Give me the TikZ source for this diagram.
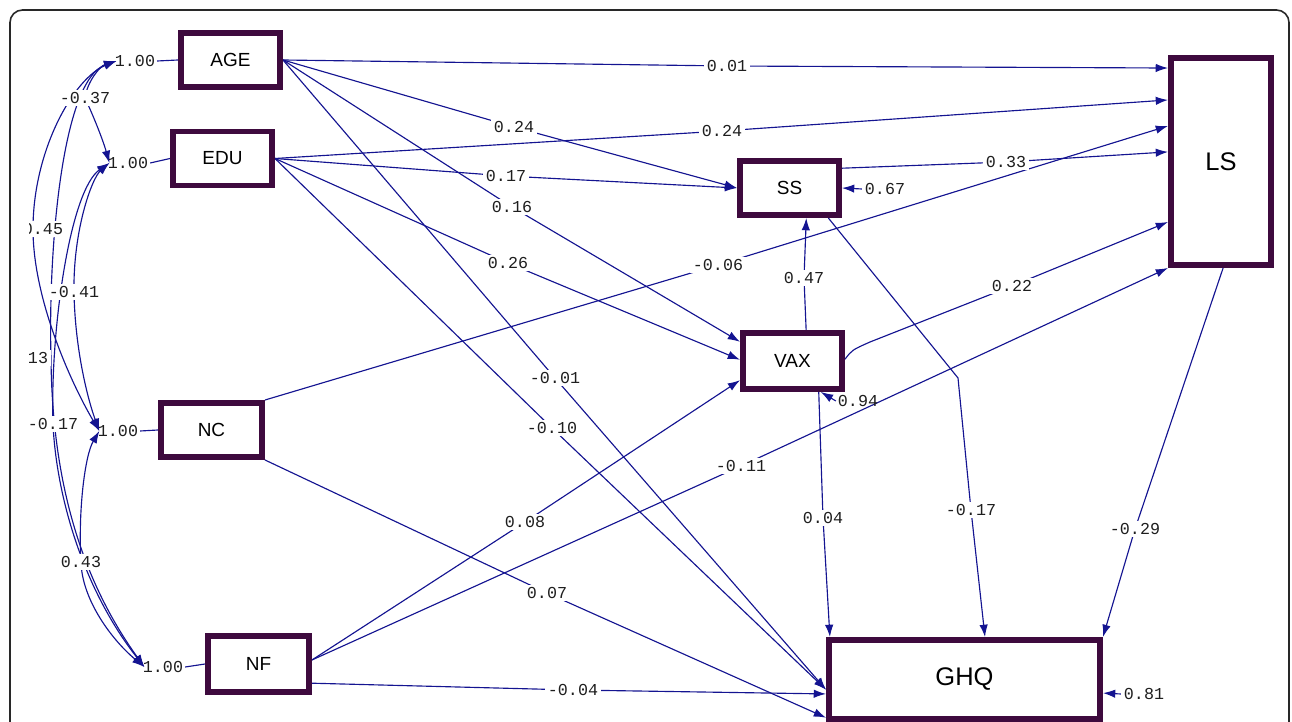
\documentclass[tikz,border=0pt]{standalone}
\usepackage{fontspec}
\setmainfont{Liberation Sans}
\newfontfamily\numfont{Liberation Mono}
\usetikzlibrary{arrows.meta,calc}
\pgfdeclarelayer{bg}
\pgfsetlayers{bg,main}
\definecolor{boxc}{RGB}{62,10,62}
\definecolor{linec}{RGB}{20,20,145}
\definecolor{framec}{RGB}{40,40,40}
\definecolor{numc}{RGB}{30,30,30}
\tikzset{
  box/.style={draw=boxc, line width=3.4pt, fill=white, inner sep=0pt,
              font=\fontsize{10.8}{12}\selectfont},
  bigbox/.style={box, font=\fontsize{14.5}{16}\selectfont},
  lbl/.style={font=\numfont\fontsize{9.5}{11}\selectfont, text=numc, fill=white, inner sep=1.5pt},
  lblnf/.style={font=\numfont\fontsize{9.5}{11}\selectfont, text=numc, inner sep=1pt},
  tipa/.tip={Latex[length=7pt,width=4.8pt]},
  pth/.style={draw=linec, line width=0.65pt, -tipa},
  cov/.style={draw=linec, line width=0.65pt, tipa-tipa},
  lnk/.style={draw=linec, line width=0.65pt},
}
\begin{document}
\begin{tikzpicture}[x=0.02cm, y=-0.02cm]
\useasboundingbox (0,0) rectangle (1292,722);
\draw[framec, line width=0.9pt, rounded corners=0.25cm] (10,10) rectangle (1289,760);

% boxes
\node[box, minimum width=1.98cm, minimum height=1.08cm] (AGE) at (230.5,60) {AGE};
\node[box, minimum width=1.98cm, minimum height=1.08cm] (EDU) at (222.5,158.5) {EDU};
\node[box, minimum width=2.02cm, minimum height=1.08cm] (NC) at (211.5,430) {NC};
\node[box, minimum width=2.02cm, minimum height=1.12cm] (NF) at (258.5,664) {NF};
\node[box, minimum width=1.98cm, minimum height=1.08cm] (SS) at (789.5,188) {SS};
\node[box, minimum width=1.98cm, minimum height=1.12cm] (VAX) at (792.5,361) {VAX};
\node[bigbox, minimum width=2.00cm, minimum height=4.14cm] (LS) at (1221,161.5) {LS};
\node[bigbox, minimum width=5.42cm, minimum height=1.58cm] (GHQ) at (964.5,679.5) {GHQ};

% path labels
\node[lbl] (t01) at (727,66) {0.01};
\node[lbl] (t02) at (514,127) {0.24};
\node[lbl] (t03) at (722,131) {0.24};
\node[lbl] (t04) at (506,176) {0.17};
\node[lbl] (t05) at (512,207) {0.16};
\node[lbl] (t06) at (508,263) {0.26};
\node[lbl] (t07) at (718,265) {-0.06};
\node[lbl] (t08) at (1006,162) {0.33};
\node[lbl] (t09) at (804,278) {0.47};
\node[lbl] (t10) at (1012,286) {0.22};
\node[lbl] (t11) at (555,378) {-0.01};
\node[lbl] (t12) at (552,428) {-0.10};
\node[lbl] (t13) at (741,466) {-0.11};
\node[lbl] (t14) at (525,522) {0.08};
\node[lbl] (t15) at (823,518) {0.04};
\node[lbl] (t16) at (971,510) {-0.17};
\node[lbl] (t17) at (1135,529) {-0.29};
\node[lbl] (t18) at (547,593) {0.07};
\node[lbl] (t19) at (573,690) {-0.04};
% error labels
\node[lbl] (e1) at (885,189) {0.67};
\node[lblnf] (e2) at (858,401) {0.94};
\node[lbl] (e3) at (1144,694) {0.81};
% variance labels
\node[lblnf] (v1) at (135,61) {1.00};
\node[lblnf] (v2) at (128,163) {1.00};
\node[lblnf] (v3) at (118,431) {1.00};
\node[lblnf] (v4) at (163,667) {1.00};
% covariance labels
\begin{scope}
\clip (29,0) rectangle (1292,722);
\node[lbl] (c1) at (85,98) {-0.37};
\node[lbl] (c2) at (43,229) {0.45};
\node[lbl] (c3) at (74,292) {-0.41};
\node[lbl] (c4) at (28,358) {0.13};
\node[lbl] (c5) at (53,424) {-0.17};
\node[lbl] (c6) at (81,562) {0.43};
\end{scope}

\begin{pgfonlayer}{bg}
% variance links
\draw[lnk] (v1.east) -- (AGE.west);
\draw[lnk] (v2.east) -- (EDU.west);
\draw[lnk] (v3.east) -- (NC.west);
\draw[lnk] (v4.east) -- (NF.west);
% covariance arcs
\begin{scope}
\clip (29,0) rectangle (1292,722);
\draw[cov] ([xshift=2pt]v1.west) .. controls (100,66) and (87,82) .. (c1.center)
   .. controls (93,115) and (103,140) .. ([xshift=2pt]v2.west);
\draw[cov] ([xshift=2pt]v1.west) .. controls (74,78) and (33,150) .. (33,229)
   .. controls (33,300) and (72,385) .. ([xshift=2pt]v3.west);
\draw[cov] ([xshift=2pt]v2.west) .. controls (92,178) and (73,230) .. (c3.center)
   .. controls (75,350) and (88,400) .. ([xshift=2pt]v3.west);
\draw[cov] ([xshift=2pt]v1.west) .. controls (62,80) and (48,250) .. (51,358)
   .. controls (52,470) and (76,572) .. ([xshift=2pt]v4.west);
\draw[cov] ([xshift=2pt]v2.west) .. controls (70,190) and (50,330) .. (c5.center)
   .. controls (56,490) and (80,585) .. ([xshift=2pt]v4.west);
\draw[cov] ([xshift=2pt]v3.west) .. controls (85,455) and (78,510) .. (c6.center)
   .. controls (82,600) and (112,640) .. ([xshift=2pt]v4.west);
\end{scope}
% AGE
\draw[pth] (AGE.east) -- (t01.center) -- ($(LS.north west)!0.061!(LS.south west)$);
\draw[pth] (AGE.east) -- (t02.center) -- (SS.west);
\draw[pth] (AGE.east) -- (t05.center) -- ($(VAX.north west)!0.19!(VAX.south west)$);
\draw[pth] (AGE.east) -- (t11.center) -- ($(GHQ.north west)!0.62!(GHQ.south west)$);
% EDU
\draw[pth] (EDU.east) -- (t03.center) -- ($(LS.north west)!0.211!(LS.south west)$);
\draw[pth] (EDU.east) -- (t04.center) -- (SS.west);
\draw[pth] (EDU.east) -- (t06.center) -- ($(VAX.north west)!0.48!(VAX.south west)$);
\draw[pth] (EDU.east) -- (t12.center) -- ($(GHQ.north west)!0.62!(GHQ.south west)$);
% NC
\draw[pth] (NC.north east) -- (t07.center) -- ($(LS.north west)!0.333!(LS.south west)$);
\draw[pth] (NC.south east) -- (t18.center) -- ($(GHQ.north west)!0.95!(GHQ.south west)$);
% NF
\draw[pth] ($(NF.north east)!0.435!(NF.south east)$) -- (t14.center) -- ($(VAX.north west)!0.81!(VAX.south west)$);
\draw[pth] ($(NF.north east)!0.435!(NF.south east)$) -- (t13.center) -- (LS.south west);
\draw[pth] ($(NF.north east)!0.81!(NF.south east)$) -- (t19.center) -- ($(GHQ.north west)!0.67!(GHQ.south west)$);
% SS
\draw[pth] ($(SS.north east)!0.17!(SS.south east)$) -- (t08.center) -- ($(LS.north west)!0.455!(LS.south west)$);
\draw[pth] ($(SS.south west)!0.87!(SS.south east)$) -- (958,378) -- (t16.center) -- ($(GHQ.north west)!0.574!(GHQ.north east)$);
% VAX
\draw[pth] ($(VAX.north west)!0.63!(VAX.north east)$) -- (t09.center) -- ($(SS.south west)!0.66!(SS.south east)$);
\draw[pth] ([yshift=1pt]VAX.east) .. controls (852,350) .. (870,342) -- (t10.center) -- ($(LS.north west)!0.784!(LS.south west)$);
\draw[pth] ($(VAX.south west)!0.75!(VAX.south east)$) -- (t15.center) -- ($(GHQ.north west)!0.014!(GHQ.north east)$);
% LS
\draw[pth] ($(LS.south west)!0.52!(LS.south east)$) -- (t17.center) -- (GHQ.north east);
% errors
\draw[pth] (e1.west) -- (SS.east);
\draw[pth] (e2.west) -- ($(VAX.south west)!0.77!(VAX.south east)$);
\draw[pth] (e3.west) -- ($(GHQ.north east)!0.66!(GHQ.south east)$);
\end{pgfonlayer}
\end{tikzpicture}
\end{document}
